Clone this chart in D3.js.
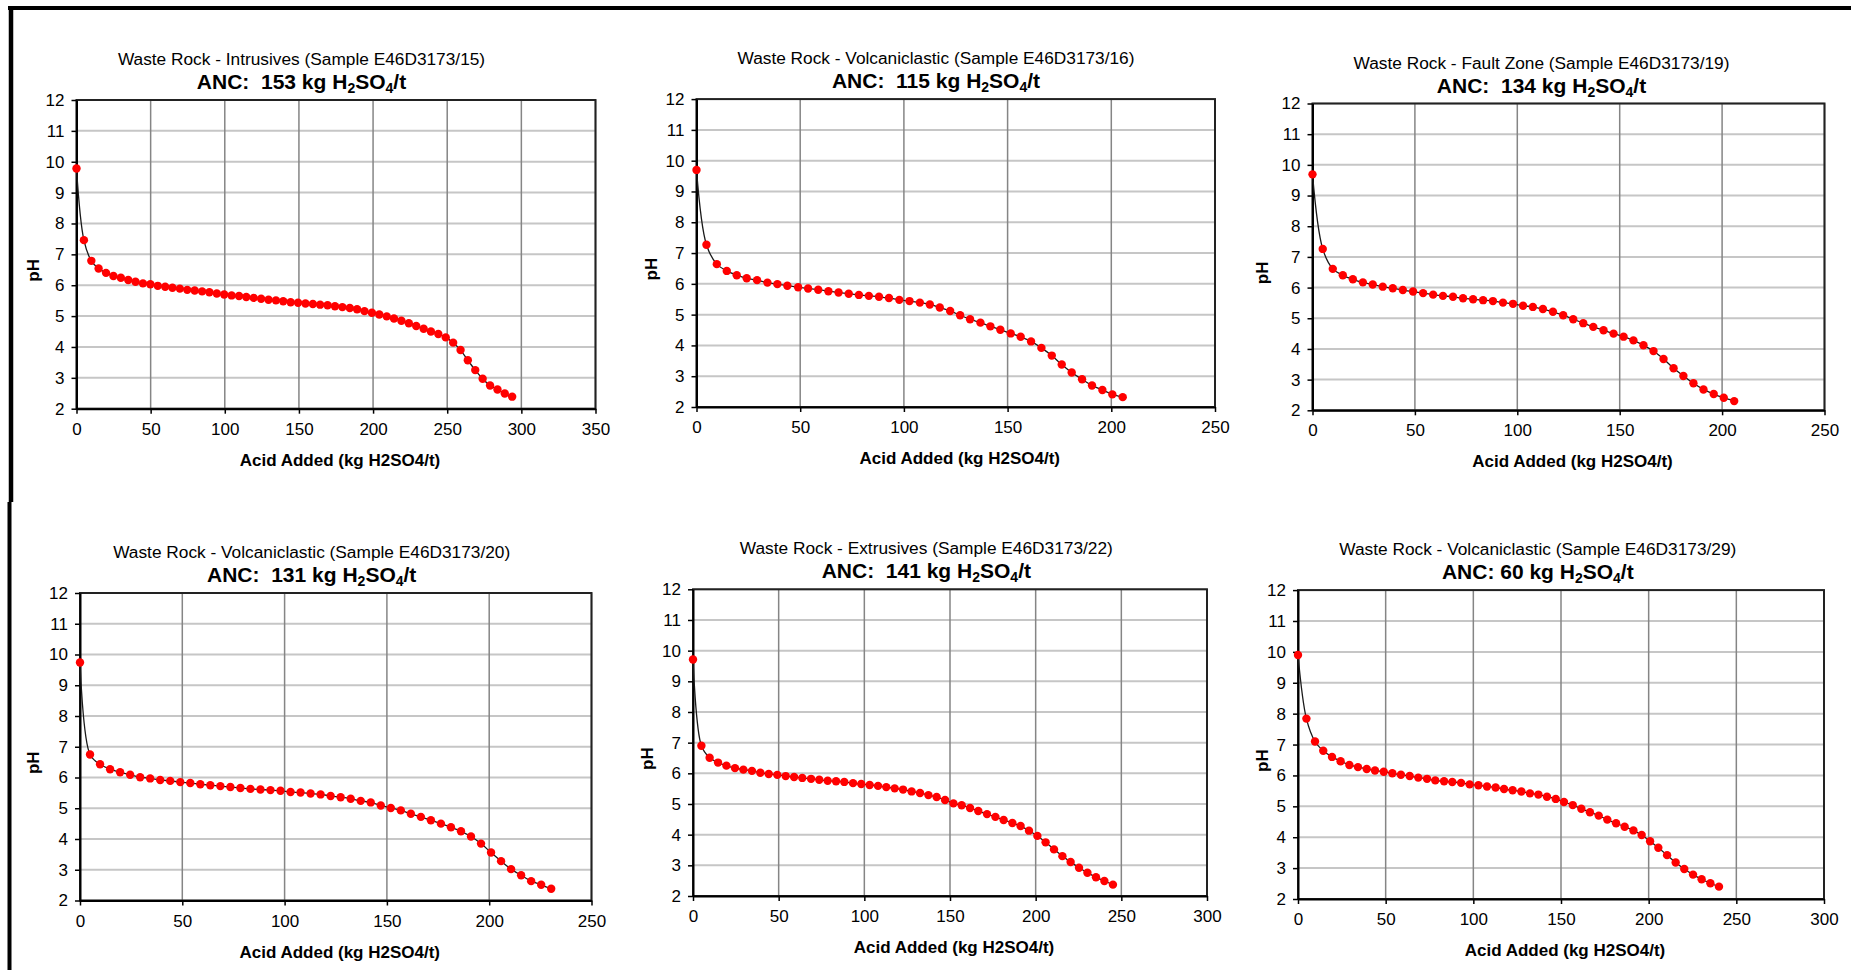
<!DOCTYPE html>
<html>
<head>
<meta charset="utf-8">
<script src="https://cdn.jsdelivr.net/npm/d3@7"></script>
<style>
  body { margin: 0; background: #fff; }
  svg { display: block; font-family: "Liberation Sans", Arial, sans-serif; }
</style>
</head>
<body>
<svg id="chart" width="1851" height="970"></svg>
<script>
// chart titles, ANC values and x-axis ranges
const sampleTitles = [
  "Waste Rock - Intrusives (Sample E46D3173/15)",
  "Waste Rock - Volcaniclastic (Sample E46D3173/16)",
  "Waste Rock - Fault Zone (Sample E46D3173/19)",
  "Waste Rock - Volcaniclastic (Sample E46D3173/20)",
  "Waste Rock - Extrusives (Sample E46D3173/22)",
  "Waste Rock - Volcaniclastic (Sample E46D3173/29)"
];
const ancLabels = ["ANC:  153", "ANC:  115", "ANC:  134", "ANC:  131", "ANC:  141", "ANC: 60"];
const xMaxValues = [350, 250, 250, 250, 300, 300];
const yTickValues = [2, 3, 4, 5, 6, 7, 8, 9, 10, 11, 12];
const xAxisTitle = "Acid Added (kg H2SO4/t)";
const yAxisTitle = "pH";

// titration curves: acid added (kg H2SO4/t) and pH
const acid15 = [0, 5.0, 10.0, 14.9, 19.9, 24.9, 29.9, 34.9, 39.8, 44.8, 49.8, 54.8, 59.8, 64.7, 69.7, 74.7, 79.7, 84.7, 89.6, 94.6,
  99.6, 104.6, 109.6, 114.5, 119.5, 124.5, 129.5, 134.5, 139.4, 144.4, 149.4, 154.4, 159.4, 164.3, 169.3, 174.3, 179.3, 184.3, 189.2, 194.2,
  199.2, 204.2, 209.2, 214.1, 219.1, 224.1, 229.1, 234.1, 239.0, 244.0, 249.0, 254.0, 259.0, 263.9, 268.9, 273.9, 278.9, 283.9, 288.8, 293.8];
const ph15 = [9.78, 7.46, 6.79, 6.54, 6.40, 6.30, 6.24, 6.17, 6.11, 6.06, 6.03, 5.98, 5.95, 5.92, 5.89, 5.85, 5.83, 5.80, 5.77, 5.73,
  5.70, 5.67, 5.65, 5.62, 5.59, 5.56, 5.53, 5.51, 5.48, 5.45, 5.43, 5.41, 5.39, 5.37, 5.35, 5.32, 5.29, 5.26, 5.22, 5.16,
  5.11, 5.05, 4.99, 4.92, 4.85, 4.77, 4.68, 4.59, 4.50, 4.42, 4.31, 4.14, 3.90, 3.57, 3.25, 2.97, 2.75, 2.62, 2.49, 2.39];

const acid16 = [0, 4.8, 9.8, 14.6, 19.4, 24.2, 29.2, 34.2, 39.0, 43.8, 49.0, 53.8, 58.7, 63.6, 68.5, 73.4, 78.3, 83.1, 88.0, 92.8,
  97.8, 102.7, 107.7, 112.5, 117.3, 122.3, 127.1, 131.9, 136.9, 141.7, 146.5, 151.5, 156.3, 161.3, 166.3, 171.3, 176.1, 180.9, 185.9, 190.7,
  195.7, 200.5, 205.5];
const ph16 = [9.70, 7.27, 6.64, 6.42, 6.28, 6.18, 6.12, 6.04, 5.99, 5.94, 5.89, 5.85, 5.81, 5.76, 5.72, 5.68, 5.64, 5.61, 5.58, 5.54,
  5.48, 5.44, 5.39, 5.33, 5.23, 5.12, 4.98, 4.85, 4.74, 4.62, 4.51, 4.39, 4.28, 4.13, 3.92, 3.67, 3.38, 3.12, 2.90, 2.70,
  2.55, 2.41, 2.32];

const acid19 = [0, 5.0, 9.9, 14.8, 19.7, 24.6, 29.4, 34.3, 39.2, 44.1, 49.1, 54.0, 58.9, 63.7, 68.6, 73.5, 78.4, 83.3, 88.1, 93.0,
  97.9, 102.8, 107.6, 112.5, 117.4, 122.4, 127.3, 132.2, 137.1, 142.1, 147.0, 151.9, 156.7, 161.6, 166.5, 171.4, 176.3, 181.1, 186.0, 190.9,
  195.9, 200.8, 205.9];
const ph19 = [9.69, 7.26, 6.61, 6.40, 6.27, 6.17, 6.10, 6.03, 5.98, 5.92, 5.87, 5.82, 5.77, 5.73, 5.70, 5.65, 5.62, 5.59, 5.56, 5.51,
  5.47, 5.41, 5.37, 5.30, 5.21, 5.10, 4.97, 4.84, 4.72, 4.61, 4.50, 4.40, 4.28, 4.12, 3.93, 3.67, 3.37, 3.12, 2.88, 2.68,
  2.53, 2.41, 2.30];

const acid20 = [0, 4.9, 9.8, 14.7, 19.6, 24.5, 29.4, 34.3, 39.2, 44.1, 49.0, 53.9, 58.8, 63.7, 68.6, 73.5, 78.4, 83.3, 88.2, 93.1,
  98.0, 102.9, 107.8, 112.7, 117.6, 122.5, 127.4, 132.3, 137.2, 142.1, 147.0, 151.9, 156.8, 161.7, 166.6, 171.5, 176.4, 181.3, 186.2, 191.1,
  196.0, 200.9, 205.8, 210.7, 215.6, 220.5, 225.4, 230.3];
const ph20 = [9.74, 6.75, 6.43, 6.27, 6.17, 6.09, 6.01, 5.97, 5.92, 5.89, 5.85, 5.82, 5.78, 5.75, 5.72, 5.69, 5.66, 5.63, 5.61, 5.59,
  5.57, 5.53, 5.51, 5.48, 5.45, 5.40, 5.36, 5.31, 5.24, 5.19, 5.09, 5.01, 4.93, 4.82, 4.72, 4.61, 4.50, 4.38, 4.25, 4.08,
  3.85, 3.56, 3.28, 3.02, 2.82, 2.63, 2.51, 2.38];

const acid22 = [0, 4.9, 9.7, 14.6, 19.5, 24.5, 29.4, 34.4, 39.3, 44.2, 49.2, 54.1, 59.0, 63.8, 68.9, 73.7, 78.6, 83.5, 88.3, 93.4,
  98.2, 103.1, 108.0, 112.8, 117.7, 122.6, 127.6, 132.5, 137.4, 142.2, 147.1, 152.0, 156.8, 161.7, 166.5, 171.6, 176.5, 181.3, 186.4, 191.2,
  196.1, 201.0, 205.8, 210.7, 215.6, 220.4, 225.3, 230.2, 235.2, 240.1, 245.1];
const ph22 = [9.71, 6.90, 6.51, 6.35, 6.25, 6.17, 6.12, 6.08, 6.02, 5.98, 5.95, 5.91, 5.88, 5.85, 5.82, 5.79, 5.76, 5.74, 5.72, 5.68,
  5.65, 5.62, 5.59, 5.55, 5.51, 5.47, 5.41, 5.36, 5.29, 5.23, 5.13, 5.02, 4.96, 4.87, 4.77, 4.67, 4.58, 4.48, 4.38, 4.28,
  4.13, 3.96, 3.75, 3.52, 3.30, 3.11, 2.92, 2.76, 2.61, 2.49, 2.37];

const acid29 = [0, 4.8, 9.7, 14.4, 19.4, 24.3, 29.3, 34.2, 39.2, 43.9, 48.9, 53.8, 58.7, 63.7, 68.6, 73.6, 78.3, 83.3, 88.0, 93.0,
  97.9, 102.9, 107.8, 112.7, 117.5, 122.4, 127.4, 132.3, 137.1, 142.0, 147.0, 151.7, 156.7, 161.6, 166.5, 171.5, 176.4, 181.4, 186.3, 191.3,
  196.0, 200.8, 205.5, 210.5, 215.4, 220.3, 225.3, 230.2, 235.2, 240.1];
const ph29 = [9.90, 7.84, 7.10, 6.80, 6.60, 6.46, 6.34, 6.27, 6.21, 6.16, 6.12, 6.07, 6.02, 5.98, 5.93, 5.89, 5.84, 5.81, 5.79, 5.76,
  5.71, 5.68, 5.64, 5.61, 5.56, 5.52, 5.48, 5.42, 5.38, 5.31, 5.24, 5.14, 5.04, 4.92, 4.81, 4.70, 4.57, 4.45, 4.34, 4.22,
  4.07, 3.87, 3.66, 3.42, 3.18, 2.97, 2.79, 2.64, 2.51, 2.40];

const acidSeries = [acid15, acid16, acid19, acid20, acid22, acid29];
const phSeries = [ph15, ph16, ph19, ph20, ph22, ph29];

// plot rectangles and label anchors for the 3x2 grid
const panels = [
  { left: 76.5, top: 100, right: 595.5, bottom: 408.7, titleX: 301.5, phX: 33.6 },
  { left: 696.5, top: 99.1, right: 1215, bottom: 407, titleX: 936, phX: 651.6 },
  { left: 1312.5, top: 103.5, right: 1824.5, bottom: 410.3, titleX: 1541.5, phX: 1262.6 },
  { left: 80, top: 593, right: 591.5, bottom: 900.5, titleX: 311.7, phX: 33.6 },
  { left: 693, top: 589.3, right: 1207, bottom: 896, titleX: 926.3, phX: 647.7 },
  { left: 1298, top: 590.1, right: 1824, bottom: 899, titleX: 1537.8, phX: 1262.6 }
];

const svg = d3.select("#chart");

// outer frame of the page
svg.append("line").attr("x1", 8).attr("x2", 1851).attr("y1", 8).attr("y2", 8)
  .attr("stroke", "#000").attr("stroke-width", 4);
svg.append("line").attr("x1", 11).attr("x2", 11).attr("y1", 6).attr("y2", 502)
  .attr("stroke", "#000").attr("stroke-width", 4.5);
svg.append("line").attr("x1", 9.5).attr("x2", 9.5).attr("y1", 502).attr("y2", 970)
  .attr("stroke", "#000").attr("stroke-width", 4);

panels.forEach((p, i) => {
  const xMax = xMaxValues[i];
  const xTicks = d3.range(0, xMax + 1, 50);
  const x = d3.scaleLinear().domain([0, xMax]).range([p.left, p.right]);
  const y = d3.scaleLinear().domain([2, 12]).range([p.bottom, p.top]);
  const g = svg.append("g");

  // horizontal gridlines (light) then vertical (darker)
  g.append("g")
    .selectAll("line")
    .data(yTickValues)
    .join("line")
    .attr("x1", p.left).attr("x2", p.right)
    .attr("y1", d => y(d)).attr("y2", d => y(d))
    .attr("stroke", "#c6c6c6").attr("stroke-width", 2);

  g.append("g")
    .selectAll("line")
    .data(xTicks)
    .join("line")
    .attr("x1", d => x(d)).attr("x2", d => x(d))
    .attr("y1", p.top).attr("y2", p.bottom)
    .attr("stroke", "#858585").attr("stroke-width", 1.5);

  g.append("rect")
    .attr("x", p.left).attr("y", p.top)
    .attr("width", p.right - p.left).attr("height", p.bottom - p.top)
    .attr("fill", "none").attr("stroke", "#222").attr("stroke-width", 2);

  // axes
  const yAxis = g.append("g")
    .attr("transform", "translate(" + p.left + ",0)")
    .call(d3.axisLeft(y).tickValues(yTickValues).tickSize(5).tickSizeOuter(0).tickPadding(7));
  const xAxis = g.append("g")
    .attr("transform", "translate(0," + p.bottom + ")")
    .call(d3.axisBottom(x).tickValues(xTicks).tickSize(5).tickSizeOuter(0).tickPadding(9));
  [yAxis, xAxis].forEach(a => {
    a.select(".domain").attr("stroke", "#000").attr("stroke-width", 2);
    a.selectAll(".tick line").attr("stroke", "#000").attr("stroke-width", 1.5);
    a.selectAll("text")
      .attr("fill", "#000")
      .style("font-family", "'Liberation Sans', Arial, sans-serif")
      .style("font-size", "17px");
  });

  // titration curve
  const pts = acidSeries[i].map((a, k) => ({ a: a, ph: phSeries[i][k] }));
  g.append("path")
    .datum(pts)
    .attr("fill", "none")
    .attr("stroke", "#1a1a1a")
    .attr("stroke-width", 1.3)
    .attr("d", d3.line().curve(d3.curveCatmullRom.alpha(0.5)).x(d => x(d.a)).y(d => y(d.ph)));

  g.append("g")
    .selectAll("circle")
    .data(pts)
    .join("circle")
    .attr("cx", d => x(d.a))
    .attr("cy", d => y(d.ph))
    .attr("r", 4.2)
    .attr("fill", "#ff0000");

  // titles
  g.append("text")
    .attr("x", p.titleX).attr("y", p.top - 35)
    .attr("text-anchor", "middle")
    .style("font-size", "17.3px")
    .text(sampleTitles[i]);

  const anc = g.append("text")
    .attr("x", p.titleX).attr("y", p.top - 11)
    .attr("text-anchor", "middle")
    .style("font-size", "21px")
    .style("font-weight", "bold")
    .style("white-space", "pre");
  anc.append("tspan").text(ancLabels[i] + " kg H");
  anc.append("tspan").attr("dy", 4).style("font-size", "14px").text("2");
  anc.append("tspan").attr("dy", -4).text("SO");
  anc.append("tspan").attr("dy", 4).style("font-size", "14px").text("4");
  anc.append("tspan").attr("dy", -4).text("/t");

  g.append("text")
    .attr("x", (p.left + p.right) / 2 + 4).attr("y", p.bottom + 57)
    .attr("text-anchor", "middle")
    .style("font-size", "17px")
    .style("font-weight", "bold")
    .text(xAxisTitle);

  g.append("text")
    .attr("transform", "translate(" + p.phX + "," + ((p.top + p.bottom) / 2 + 16) + ") rotate(-90)")
    .attr("text-anchor", "middle")
    .attr("dominant-baseline", "central")
    .style("font-size", "17px")
    .style("font-weight", "bold")
    .text(yAxisTitle);
});
</script>
</body>
</html>
